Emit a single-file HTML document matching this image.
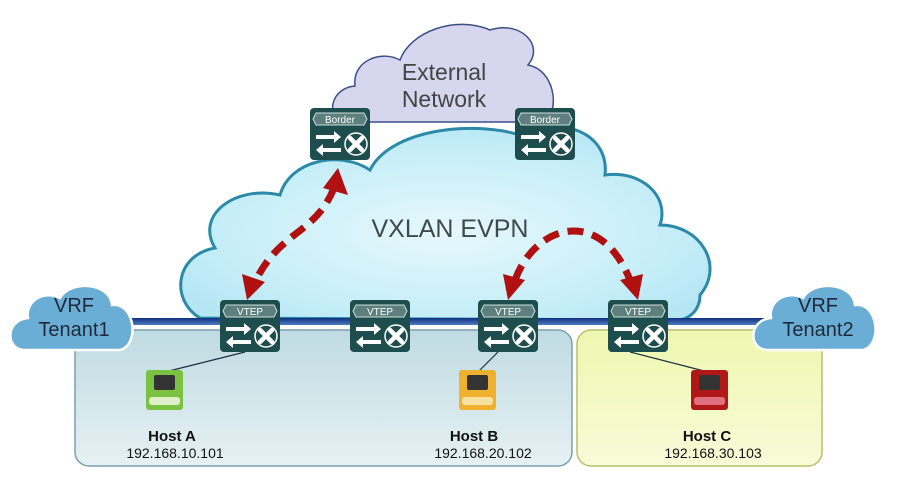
<!DOCTYPE html>
<html><head><meta charset="utf-8"><style>
html,body{margin:0;padding:0;background:#fff;}
svg{display:block;}
text{font-family:"Liberation Sans",sans-serif;}
</style></head><body>
<svg width="906" height="478" viewBox="0 0 906 478" xmlns="http://www.w3.org/2000/svg">
<defs>
<radialGradient id="vx" cx="0.5" cy="0.55" r="0.6">
<stop offset="0" stop-color="#e6f8fc"/><stop offset="0.7" stop-color="#c6eef8"/><stop offset="1" stop-color="#b5e6f3"/>
</radialGradient>
<linearGradient id="lb" x1="0" y1="0" x2="0" y2="1">
<stop offset="0" stop-color="#bfdbe2"/><stop offset="1" stop-color="#e6f1f3"/>
</linearGradient>
<linearGradient id="yb" x1="0" y1="0" x2="0" y2="1">
<stop offset="0" stop-color="#eef7b0"/><stop offset="1" stop-color="#f8fbd8"/>
</linearGradient>
<linearGradient id="ln" x1="0" y1="0" x2="0" y2="1">
<stop offset="0" stop-color="#0f2f80"/><stop offset="1" stop-color="#4f7cc0"/>
</linearGradient>
<g id="sw">
<rect x="0" y="0" width="60" height="52" rx="4" fill="#1d4d4c"/>
<path d="M6 5 H54 L57 11 L54 17 H6 L3 11 Z" fill="#5d7f7e" stroke="#cfdede" stroke-width="1"/>
<path d="M6 27 H24 V23 L31 29 L24 35 V31 H6 Z" fill="#fff"/>
<path d="M31 40 H13 V36 L6 42 L13 48 V44 H31 Z" fill="#fff"/>
<circle cx="46" cy="36" r="11" fill="#1d4d4c" stroke="#fff" stroke-width="1.5"/>
<path d="M40 30 L52 42 M52 30 L40 42" stroke="#fff" stroke-width="4.5" stroke-linecap="round"/>
</g>
</defs>

<rect x="75" y="330" width="497" height="136" rx="14" fill="url(#lb)" stroke="#7aa0ac" stroke-width="1.5"/>
<rect x="577" y="330" width="245" height="136" rx="14" fill="url(#yb)" stroke="#b6c06a" stroke-width="1.5"/>

<path d="M345 122 C325 118 330 88 355 86 C352 60 382 50 400 60 C410 32 455 15 490 30 C520 20 545 45 528 65 C555 70 560 110 545 122 Z" fill="#d6d6ee" stroke="#3b4f86" stroke-width="1.5"/>
<text x="444" y="80" font-size="23" fill="#444" text-anchor="middle">External</text>
<text x="444" y="107" font-size="23" fill="#444" text-anchor="middle">Network</text>

<path d="M200 318 C170 300 175 255 215 248 C195 215 235 185 280 195 C290 160 340 150 370 170 C390 130 470 120 520 135 C555 115 610 130 605 175 C640 170 670 195 660 225 C700 225 725 265 700 295 C700 310 690 318 680 320 Z" fill="url(#vx)" stroke="#2a8aa8" stroke-width="3"/>
<text x="450" y="237" font-size="25" fill="#3f4a4a" text-anchor="middle">VXLAN  EVPN</text>

<rect x="130" y="318" width="635" height="7" fill="url(#ln)"/>

<g fill="#6aaed6" stroke="#fff" stroke-width="2.5">
<path d="M25 350 C5 350 5 320 28 318 C25 300 45 290 60 298 C70 280 110 282 112 305 C135 302 140 345 120 350 Z"/>
<path d="M768 350 C748 350 748 320 771 318 C768 300 788 290 803 298 C813 280 853 282 855 305 C878 302 883 345 863 350 Z"/>
</g>
<text x="74" y="312" font-size="20" fill="#1e2a3a" text-anchor="middle">VRF</text>
<text x="74" y="336" font-size="20" fill="#1e2a3a" text-anchor="middle">Tenant1</text>
<text x="818" y="312" font-size="20" fill="#1e2a3a" text-anchor="middle">VRF</text>
<text x="818" y="336" font-size="20" fill="#1e2a3a" text-anchor="middle">Tenant2</text>

<g stroke="#203040" stroke-width="1.2">
<line x1="245" y1="352" x2="165" y2="372"/>
<line x1="498" y1="352" x2="478" y2="372"/>
<line x1="630" y1="352" x2="708" y2="372"/>
</g>

<use href="#sw" x="310" y="108"/>
<use href="#sw" x="515" y="108"/>
<use href="#sw" x="220" y="300"/>
<use href="#sw" x="350" y="300"/>
<use href="#sw" x="478" y="300"/>
<use href="#sw" x="608" y="300"/>
<g font-size="10" fill="#fff" text-anchor="middle">
<text x="340" y="123">Border</text><text x="545" y="123">Border</text>
<text x="250" y="315">VTEP</text><text x="380" y="315">VTEP</text>
<text x="508" y="315">VTEP</text><text x="638" y="315">VTEP</text>
</g>

<g>
<rect x="146" y="370" width="37" height="40" rx="3" fill="#7cc242"/>
<rect x="459" y="370" width="37" height="40" rx="3" fill="#f0b030"/>
<rect x="691" y="370" width="37" height="40" rx="3" fill="#b01818"/>
<g fill="#333"><rect x="154" y="375" width="21" height="15" rx="2"/><rect x="467" y="375" width="21" height="15" rx="2"/><rect x="699" y="375" width="21" height="15" rx="2"/></g>
<rect x="149" y="397" width="31" height="8" rx="3" fill="#dff0c8"/>
<rect x="462" y="397" width="31" height="8" rx="3" fill="#f8e0a0"/>
<rect x="694" y="397" width="31" height="8" rx="3" fill="#e07080"/>
</g>

<g text-anchor="middle" fill="#111">
<text x="172" y="441" font-size="15" font-weight="bold">Host A</text>
<text x="175" y="458" font-size="14">192.168.10.101</text>
<text x="474" y="441" font-size="15" font-weight="bold">Host B</text>
<text x="483" y="458" font-size="14">192.168.20.102</text>
<text x="707" y="441" font-size="15" font-weight="bold">Host C</text>
<text x="713" y="458" font-size="14">192.168.30.103</text>
</g>

<g fill="none" stroke="#b01010" stroke-width="7" stroke-dasharray="16 9">
<path d="M334 188 C315 235 280 230 255 282"/>
<path d="M515 280 C535 225 600 205 630 280"/>
</g>
<g fill="#b01010">
<path d="M338 168 L348 195 L323 188 Z"/>
<path d="M247 300 L242 274 L265 282 Z"/>
<path d="M508 300 L503 274 L525 280 Z"/>
<path d="M638 300 L620 280 L643 274 Z"/>
</g>
</svg>
</body></html>
